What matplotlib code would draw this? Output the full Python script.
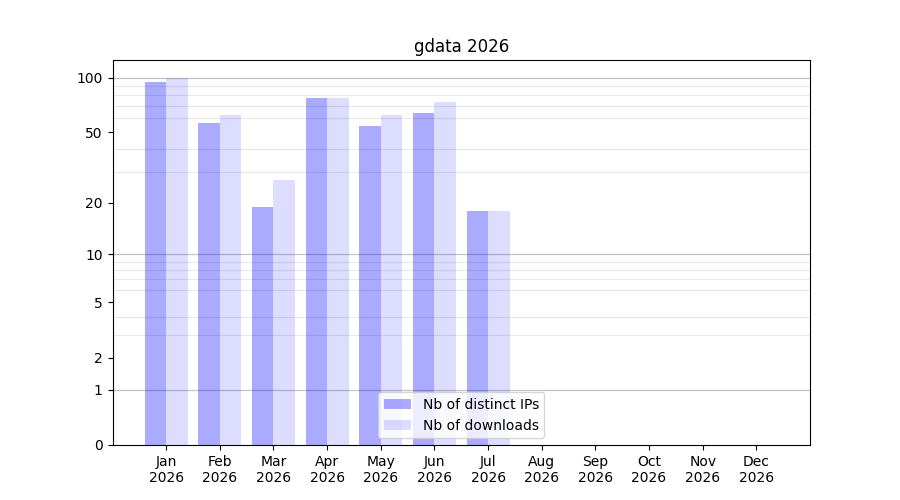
import numpy as np
import matplotlib
matplotlib.use('Agg')
import matplotlib.pyplot as plt

months = ['Jan', 'Feb', 'Mar', 'Apr', 'May', 'Jun', 'Jul', 'Aug', 'Sep', 'Oct', 'Nov', 'Dec']
year = 2026
# Monthly stats (Jan..Jul, rest of the year has no data yet)
distinct_ips = [94, 56, 19, 77, 54, 64, 18]
downloads = [100, 62, 27, 77, 62, 73, 18]

y_ticks = [0, 1, 2, 5, 10, 20, 50, 100]


def forward(v):
    return np.log10(1 + np.asarray(v, dtype=float))


def inverse(v):
    return 10 ** np.asarray(v, dtype=float) - 1


fig, ax = plt.subplots(figsize=(9, 5), dpi=100)

x = np.arange(len(distinct_ips))
width = 0.4
ax.bar(x - width / 2, distinct_ips, width, color='blue', alpha=1 / 3,
       label='Nb of distinct IPs', zorder=2)
ax.bar(x + width / 2, downloads, width, color='blue', alpha=0.135,
       label='Nb of downloads', zorder=2)

ax.set_yscale('function', functions=(forward, inverse))
ax.set_ylim(0, 125)
ax.set_xlim(-1, 12)

ax.set_yticks(y_ticks)
ax.set_yticklabels([str(t) for t in y_ticks])
minor = [m * 10 ** k for k in range(0, 2) for m in range(2, 10)]
ax.set_yticks(minor, minor=True)
ax.tick_params(axis='y', which='minor', length=0)
ax.grid(axis='y', which='minor', color='#e8e8e8', linewidth=0.8, zorder=0)
for d in [1, 10, 100]:
    ax.axhline(d, color='#c4c4c4', linewidth=0.9, zorder=1)

ax.set_xticks(np.arange(12))
ax.set_xticklabels([f'{m}\n{year}' for m in months])

ax.set_title(f'gdata {year}')
ax.legend(loc='lower center')

fig.savefig('out.png')
